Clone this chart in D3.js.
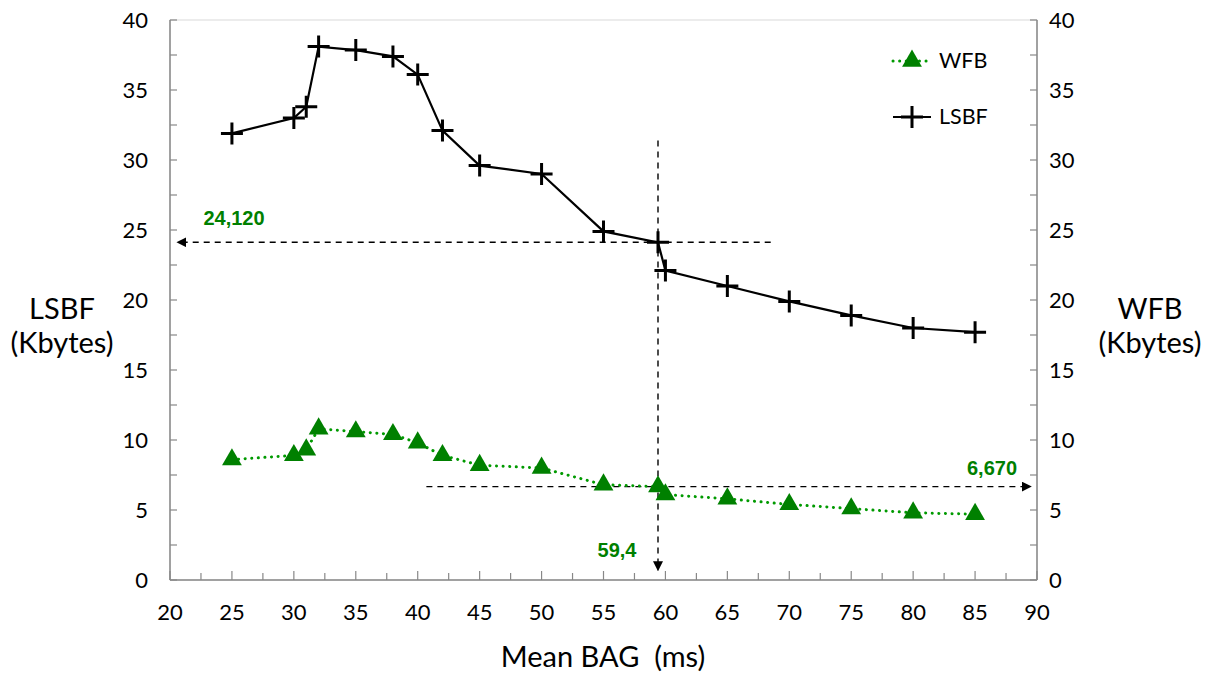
<!DOCTYPE html>
<html><head><meta charset="utf-8">
<script src="https://cdn.jsdelivr.net/npm/d3@7"></script>
<style>body{margin:0;background:#fff}</style>
</head><body>
<svg id="c" width="1214" height="673"></svg>
<script>
const meanBAG = [25,30,31,32,35,38,40,42,45,50,55,59.4,60,65,70,75,80,85];
const lsbf    = [31.9,33.0,33.8,38.1,37.85,37.4,36.1,32.1,29.6,29.0,24.9,24.12,22.1,21.0,19.9,18.9,18.0,17.7];
const wfb     = [8.6,8.9,9.3,10.8,10.6,10.4,9.8,8.9,8.2,8.0,6.8,6.67,6.1,5.8,5.4,5.1,4.8,4.7];
const xTicks = [20,25,30,35,40,45,50,55,60,65,70,75,80,85,90];
const yTicks = [0,5,10,15,20,25,30,35,40];
const refX = 59.4, refL = 24.12, refW = 6.67;
const labels = {lsbf:"24,120", wfb:"6,670", x:"59,4"};

const svg = d3.select("#c");
const L=170,R=1037,T=20,B=580;
const x = d3.scaleLinear().domain([20,90]).range([L,R]);
const y = d3.scaleLinear().domain([0,40]).range([B,T]);
const font = "Lato, 'Open Sans', sans-serif";
const green = "#008000";
const axisCol = "#888";

// frame
svg.append("rect").attr("x",L).attr("y",T).attr("width",R-L).attr("height",B-T)
  .attr("fill","none").attr("stroke","#d9d9d9").attr("stroke-width",1);
// axes lines
svg.append("line").attr("x1",L).attr("x2",L).attr("y1",T).attr("y2",B).attr("stroke",axisCol).attr("stroke-width",1.5);
svg.append("line").attr("x1",R).attr("x2",R).attr("y1",T).attr("y2",B).attr("stroke",axisCol).attr("stroke-width",1.5);
svg.append("line").attr("x1",L).attr("x2",R).attr("y1",B).attr("y2",B).attr("stroke",axisCol).attr("stroke-width",1.5);

// ticks (inside)
const xMinor = d3.range(20,90.01,2.5);
svg.selectAll(".xt").data(xMinor).enter().append("line")
  .attr("x1",d=>x(d)).attr("x2",d=>x(d)).attr("y1",B).attr("y2",d=>d%5===0?B-9:B-7)
  .attr("stroke",axisCol).attr("stroke-width",1.2);
const yMinor = d3.range(0,40.01,2.5);
svg.selectAll(".ytl").data(yMinor).enter().append("line")
  .attr("x1",L).attr("x2",L+7).attr("y1",d=>y(d)).attr("y2",d=>y(d)).attr("stroke",axisCol).attr("stroke-width",1.2);
svg.selectAll(".ytr").data(yMinor).enter().append("line")
  .attr("x1",R).attr("x2",R-7).attr("y1",d=>y(d)).attr("y2",d=>y(d)).attr("stroke",axisCol).attr("stroke-width",1.2);

// tick labels
svg.selectAll(".xl").data(xTicks).enter().append("text")
  .attr("x",d=>x(d)).attr("y",620).attr("text-anchor","middle")
  .attr("font-family",font).attr("font-size",22).attr("fill","#000").text(d=>d);
svg.selectAll(".yl").data(yTicks).enter().append("text")
  .attr("x",148).attr("y",d=>y(d)+8).attr("text-anchor","end")
  .attr("font-family",font).attr("font-size",22).attr("fill","#000").text(d=>d);
svg.selectAll(".yr").data(yTicks).enter().append("text")
  .attr("x",1049).attr("y",d=>y(d)+8).attr("text-anchor","start")
  .attr("font-family",font).attr("font-size",22).attr("fill","#000").text(d=>d);

// axis titles
const title = (tx,ty,t,anchor)=>svg.append("text").attr("x",tx).attr("y",ty).attr("text-anchor",anchor||"middle")
  .attr("font-family",font).attr("font-size",29).attr("fill","#000").text(t);
title(62,319,"LSBF"); title(62,353,"(Kbytes)");
title(1150,319,"WFB"); title(1150,353,"(Kbytes)");
svg.append("text").attr("x",603).attr("y",667).attr("text-anchor","middle")
  .attr("font-family",font).attr("font-size",29).attr("xml:space","preserve").text("Mean BAG  (ms)");

// arrow marker
const defs = svg.append("defs");
defs.append("marker").attr("id","arr").attr("viewBox","0 0 10 10").attr("refX",9).attr("refY",5)
  .attr("markerWidth",10).attr("markerHeight",10).attr("markerUnits","userSpaceOnUse").attr("orient","auto")
  .append("path").attr("d","M0,0 L10,5 L0,10 z").attr("fill","#000");

const dash = (x1,y1,x2,y2)=>svg.append("line").attr("x1",x1).attr("y1",y1).attr("x2",x2).attr("y2",y2)
  .attr("stroke","#000").attr("stroke-width",1.4).attr("stroke-dasharray","6,5").attr("marker-end","url(#arr)");
dash(x(68.5),y(refL),x(20.6),y(refL));
dash(x(refX),y(31.4),x(refX),y(0.7));
dash(x(40.7),y(refW),x(89.5),y(refW));

// lines
svg.append("path").datum(wfb).attr("d",d3.line().x((d,i)=>x(meanBAG[i])).y(d=>y(d))).attr("fill","none")
  .attr("stroke","#009a00").attr("stroke-width",3).attr("stroke-dasharray","0.1,6.5").attr("stroke-linecap","round");
svg.append("path").datum(lsbf).attr("d",d3.line().x((d,i)=>x(meanBAG[i])).y(d=>y(d))).attr("fill","none")
  .attr("stroke","#000").attr("stroke-width",2.2);

// markers
const tri = d3.symbol().type(d3.symbolTriangle).size(170);
svg.selectAll(".tri").data(wfb).enter().append("path")
  .attr("transform",(d,i)=>`translate(${x(meanBAG[i])},${y(d)})`).attr("d",tri).attr("fill",green);
const plus = "M-11,0H11M0,-11V11";
svg.selectAll(".pl").data(lsbf).enter().append("path")
  .attr("transform",(d,i)=>`translate(${x(meanBAG[i])},${y(d)})`).attr("d",plus)
  .attr("stroke","#000").attr("stroke-width",3).attr("fill","none");

// annotation labels
const ann = (tx,ty,t)=>svg.append("text").attr("x",tx).attr("y",ty).attr("font-family","'Liberation Sans', Arial, sans-serif")
  .attr("font-weight","bold").attr("font-size",20).attr("fill",green).attr("text-anchor","middle").text(t);
ann(234,225,labels.lsbf);
ann(992,475,labels.wfb);
ann(617,557,labels.x);

// legend
svg.append("line").attr("x1",893).attr("x2",931).attr("y1",61).attr("y2",61).attr("stroke","#009a00")
  .attr("stroke-width",3).attr("stroke-dasharray","0.1,6.5").attr("stroke-linecap","round");
svg.append("path").attr("transform","translate(912,61)").attr("d",tri).attr("fill",green);
svg.append("text").attr("x",939).attr("y",68).attr("font-family",font).attr("font-size",21.5).text("WFB");
svg.append("line").attr("x1",893).attr("x2",931).attr("y1",117).attr("y2",117).attr("stroke","#000").attr("stroke-width",2.2);
svg.append("path").attr("transform","translate(912,117)").attr("d",plus).attr("stroke","#000").attr("stroke-width",3);
svg.append("text").attr("x",939).attr("y",124).attr("font-family",font).attr("font-size",21.5).text("LSBF");
</script>
</body></html>
